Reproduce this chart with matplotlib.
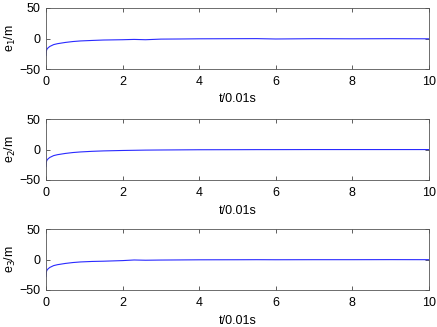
import numpy as np
import matplotlib
matplotlib.use('Agg')
import matplotlib.pyplot as plt

plt.rcParams['font.family'] = ['Liberation Sans', 'DejaVu Sans']
plt.rcParams['font.size'] = 9

# error curves (t in units of 0.01 s)
t = [0, 0.01, 0.03, 0.06, 0.1, 0.15, 0.2, 0.3, 0.4, 0.5, 0.7, 0.9, 1.2, 1.5, 2.0, 2.3, 2.6, 3.0, 3.5, 4, 5, 5.5, 6, 7, 8, 9, 10]
e1 = [-28, -20, -17, -15, -13, -11.5, -10, -8.5, -7.5, -6.5, -5, -4, -3.2, -2.5, -2, -1.5, -2, -1, -0.8, -0.5, -0.3, -0.2, -0.8, -0.3, -0.5, -0.3, -0.5]
e2 = [-28, -20, -17, -15, -13, -11.5, -10, -8.5, -7.5, -6.5, -5, -4, -3, -2.3, -1.6, -1.3, -1.0, -0.8, -0.6, -0.4, -0.3, -0.2, -0.2, -0.1, -0.1, -0.1, -0.1]
e3 = [-28, -20, -17, -15, -13, -11.5, -10, -8.5, -7.5, -6.5, -5, -4, -3.2, -2.8, -1.8, -0.8, -1.2, -0.9, -0.7, -0.5, -0.4, -0.3, -0.4, -0.3, -0.3, -0.2, -0.3]
series = [e1, e2, e3]
ylabels = ['e$_1$/m', 'e$_2$/m', 'e$_3$/m']
xticks = [0, 2, 4, 6, 8, 10]
yticks = [-50, 0, 50]

fig = plt.figure(figsize=(4.37, 3.27), dpi=100)
W, H = 437, 327
tops = [8, 119, 229]
for i in range(3):
    top = tops[i]
    ax = fig.add_axes([46 / W, 1 - (top + 61) / H, (429 - 46) / W, 61 / H])
    ax.plot(t, series[i], color='#2a2aff', lw=0.8)
    ax.set_xlim(0, 10)
    ax.set_ylim(-50, 50)
    ax.set_xticks(xticks)
    ax.set_yticks(yticks)
    ax.tick_params(direction='in', top=True, right=True, length=3, width=0.6,
                   color='#444444', labelsize=9)
    ax.tick_params(axis='x', pad=5)
    ax.tick_params(axis='y', pad=4)
    for s in ax.spines.values():
        s.set_linewidth(0.6)
        s.set_color('#555555')
    ax.set_xlabel('t/0.01s', labelpad=4)
    ax.set_ylabel(ylabels[i], labelpad=1)

fig.savefig('out.png', dpi=100)
